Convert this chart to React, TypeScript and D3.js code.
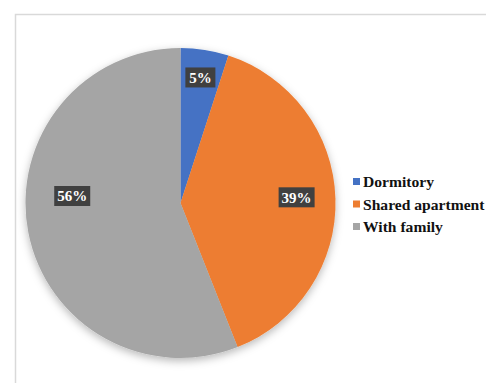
import React from "react";
import * as d3 from "d3";

const categories = ["Dormitory", "Shared apartment", "With family"];
const values = [5, 39, 56];
const colors = ["#4472C4", "#ED7D31", "#A5A5A5"];
const labelRadius = [0.82, 0.75, 0.7];
const labelAngleShift = [0, -1, 14.5];

const W = 486;
const H = 383;
const cx = 180.5;
const cy = 203;
const R = 155;

export default function App() {
  const pie = d3.pie<number>().sort(null).value((d) => d);
  const arcs = pie(values);
  const arcGen = d3.arc<d3.PieArcDatum<number>>().innerRadius(0).outerRadius(R);
  const total = d3.sum(values);
  const font = "Liberation Serif, DejaVu Serif, Times New Roman, serif";

  return (
    <svg
      width={W}
      height={H}
      style={{ position: "absolute", left: 0, top: 0, background: "#fff" }}
    >
      <defs>
        <filter id="sh" x="-20%" y="-20%" width="140%" height="140%">
          <feDropShadow dx="0" dy="3" stdDeviation="4" floodColor="#000" floodOpacity="0.28" />
        </filter>
      </defs>
      <rect x={15.5} y={14.5} width={600} height={500} fill="#fff" stroke="#d9d9d9" strokeWidth={1.5} />
      <g transform={`translate(${cx},${cy})`}>
        <g filter="url(#sh)">
          {arcs.map((a, i) => (
            <path key={i} d={arcGen(a) || ""} fill={colors[i]} />
          ))}
        </g>
        {arcs.map((a, i) => {
          const mid = (a.startAngle + a.endAngle) / 2 + (labelAngleShift[i] * Math.PI) / 180;
          const r = R * labelRadius[i];
          const x = Math.sin(mid) * r;
          const y = -Math.cos(mid) * r;
          const txt = `${Math.round((values[i] / total) * 100)}%`;
          const w = txt.length === 2 ? 30 : 36;
          return (
            <g key={"l" + i} transform={`translate(${x},${y})`}>
              <rect x={-w / 2} y={-10} width={w} height={20} fill="#404040" />
              <text
                x={0}
                y={5.5}
                textAnchor="middle"
                fill="#fff"
                style={{ fontFamily: font }}
                fontWeight="bold"
                fontSize={15}
              >
                {txt}
              </text>
            </g>
          );
        })}
      </g>
      <g transform="translate(353,182)">
        {categories.map((c, i) => (
          <g key={c} transform={`translate(0,${i * 22.5})`}>
            <rect x={0} y={-4} width={7} height={7} fill={colors[i]} />
            <text
              x={10}
              y={5}
              style={{ fontFamily: font }}
              fontWeight="bold"
              fontSize={15.6}
              fill="#111"
            >
              {c}
            </text>
          </g>
        ))}
      </g>
    </svg>
  );
}
